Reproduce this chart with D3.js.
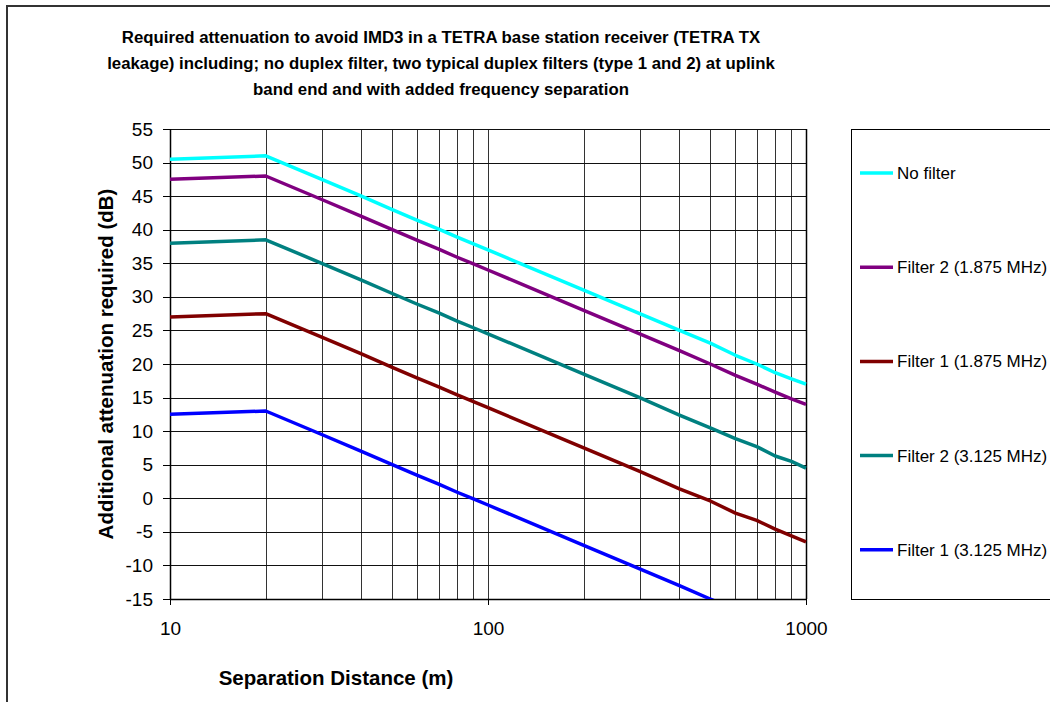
<!DOCTYPE html>
<html lang="en">
<head>
<meta charset="utf-8">
<script src="https://d3js.org/d3.v7.min.js"></script>
<style>
  html, body { margin: 0; padding: 0; background: #fff; }
  body { font-family: "Liberation Sans", Arial, sans-serif; }
  .grid line { stroke: #333; stroke-width: 1; shape-rendering: crispEdges; }
  .hgrid line { stroke: #111; }
  .axis text { font-size: 19px; fill: #000; }
  .axis path, .axis line { stroke: #000; shape-rendering: crispEdges; }
</style>
</head>
<body>
<script>
// separation distances (m)
var distances = [10, 20, 30, 40, 50, 60, 70, 80, 90, 100, 200, 300, 400, 500, 600, 700, 800, 900, 1000];

var seriesNames = ["No filter", "Filter 2 (1.875 MHz)", "Filter 1 (1.875 MHz)", "Filter 2 (3.125 MHz)", "Filter 1 (3.125 MHz)"];
var seriesColors = ["#00ffff", "#800080", "#800000", "#008080", "#0000ff"];

// additional attenuation required (dB)
var noFilter   = [50.5, 51, 47.5, 45, 43, 41.4, 40.1, 38.9, 37.9, 37, 31, 27.5, 25, 23.1, 21.3, 20, 18.7, 17.8, 17];
var filter2_18 = [47.5, 48, 44.5, 42, 40, 38.4, 37.1, 35.9, 34.9, 34, 28, 24.5, 22, 20, 18.3, 17, 15.8, 14.8, 14];
var filter1_18 = [27, 27.5, 24, 21.5, 19.5, 17.9, 16.6, 15.4, 14.4, 13.5, 7.5, 4, 1.4, -0.4, -2.2, -3.3, -4.6, -5.6, -6.5];
var filter2_31 = [38, 38.5, 35, 32.5, 30.5, 28.9, 27.6, 26.4, 25.4, 24.5, 18.5, 15, 12.4, 10.5, 8.9, 7.7, 6.3, 5.5, 4.5];
var filter1_31 = [12.5, 13, 9.5, 7, 5, 3.4, 2.1, 0.9, -0.1, -1, -7, -10.5, -13, -15, -16.6, -18, -19.2, -20.2, -21];

var allSeries = [noFilter, filter2_18, filter1_18, filter2_31, filter1_31];

var yTicks = d3.range(-15, 56, 5);
var xLabels = [10, 100, 1000];

var W = 1050, H = 702;
var plot = { left: 170, right: 806, top: 129, bottom: 599 };

var svg = d3.select("body").append("svg")
    .attr("width", W)
    .attr("height", H);

// outer chart border
svg.append("rect")
    .attr("x", 7).attr("y", 6)
    .attr("width", W + 20).attr("height", H + 20)
    .attr("fill", "#fff")
    .attr("stroke", "#333")
    .attr("stroke-width", 2);

var x = d3.scaleLog().domain([10, 1000]).range([plot.left, plot.right]);
var y = d3.scaleLinear().domain([-15, 55]).range([plot.bottom, plot.top]);

// plain hyphen for negatives, like the original
var fmt = function(d) { return String(d); };

// gridlines
svg.append("g").attr("class", "grid")
  .selectAll("line").data(distances).enter().append("line")
    .attr("x1", function(d) { return Math.round(x(d)) + 0.5; })
    .attr("x2", function(d) { return Math.round(x(d)) + 0.5; })
    .attr("y1", plot.top).attr("y2", plot.bottom);

svg.append("g").attr("class", "grid hgrid")
  .selectAll("line").data(yTicks).enter().append("line")
    .attr("x1", plot.left).attr("x2", plot.right)
    .attr("y1", function(d) { return Math.round(y(d)) + 0.5; })
    .attr("y2", function(d) { return Math.round(y(d)) + 0.5; });

// axes
var yAxis = d3.axisLeft(y).tickValues(yTicks).tickSize(7).tickPadding(10).tickFormat(fmt);
svg.append("g").attr("class", "axis")
    .attr("transform", "translate(" + plot.left + ",0)")
    .call(yAxis)
    .call(function(g) { g.select(".domain").remove(); });

var xAxis = d3.axisBottom(x).tickValues(xLabels).tickSize(6).tickPadding(17).tickFormat(fmt);
svg.append("g").attr("class", "axis")
    .attr("transform", "translate(0," + plot.bottom + ")")
    .call(xAxis)
    .call(function(g) { g.select(".domain").remove(); });

// plot frame
svg.append("line").attr("x1", plot.left + 0.5).attr("x2", plot.left + 0.5)
    .attr("y1", plot.top).attr("y2", plot.bottom).attr("stroke", "#000").attr("stroke-width", 1.5);
svg.append("line").attr("x1", plot.left).attr("x2", plot.right)
    .attr("y1", plot.bottom + 0.5).attr("y2", plot.bottom + 0.5).attr("stroke", "#000").attr("stroke-width", 1.5);
svg.append("line").attr("x1", plot.right + 0.5).attr("x2", plot.right + 0.5)
    .attr("y1", plot.top).attr("y2", plot.bottom).attr("stroke", "#000").attr("stroke-width", 1.5);

// clip for series
svg.append("clipPath").attr("id", "clip")
  .append("rect")
    .attr("x", plot.left).attr("y", plot.top - 2)
    .attr("width", plot.right - plot.left + 2)
    .attr("height", plot.bottom - plot.top + 2);

var line = d3.line()
    .x(function(d, i) { return x(distances[i]); })
    .y(function(d) { return y(d); });

svg.append("g").attr("clip-path", "url(#clip)")
  .selectAll("path").data(allSeries).enter().append("path")
    .attr("d", line)
    .attr("fill", "none")
    .attr("stroke", function(d, i) { return seriesColors[i]; })
    .attr("stroke-width", 3.5)
    .attr("stroke-linejoin", "round");

// title
var titleLines = [
  "Required attenuation to avoid IMD3 in a TETRA base station receiver (TETRA TX",
  "leakage) including; no duplex filter, two typical duplex filters (type 1 and 2) at uplink",
  "band end and with added frequency separation"
];
svg.append("g").selectAll("text").data(titleLines).enter().append("text")
    .attr("x", 441)
    .attr("y", function(d, i) { return 43 + i * 26; })
    .attr("text-anchor", "middle")
    .style("font-size", "16.8px")
    .style("font-weight", "bold")
    .text(function(d) { return d; });

// axis titles
svg.append("text")
    .attr("transform", "translate(113," + ((plot.top + plot.bottom) / 2) + ") rotate(-90)")
    .attr("text-anchor", "middle")
    .style("font-size", "20.5px")
    .style("font-weight", "bold")
    .text("Additional attenuation required (dB)");

svg.append("text")
    .attr("x", 336).attr("y", 685)
    .attr("text-anchor", "middle")
    .style("font-size", "20.5px")
    .style("font-weight", "bold")
    .text("Separation Distance (m)");

// legend
svg.append("rect")
    .attr("x", 851.5).attr("y", 129.5)
    .attr("width", 260).attr("height", 470)
    .attr("fill", "#fff")
    .attr("stroke", "#000")
    .attr("stroke-width", 1);

var legend = svg.append("g").selectAll("g").data(seriesNames).enter().append("g")
    .attr("transform", function(d, i) { return "translate(860," + (173 + i * 94.2) + ")"; });
legend.append("line")
    .attr("x1", 0).attr("x2", 33)
    .attr("stroke", function(d, i) { return seriesColors[i]; })
    .attr("stroke-width", 3.5);
legend.append("text")
    .attr("x", 37).attr("y", 6)
    .style("font-size", "17px")
    .text(function(d) { return d; });
</script>
</body>
</html>
